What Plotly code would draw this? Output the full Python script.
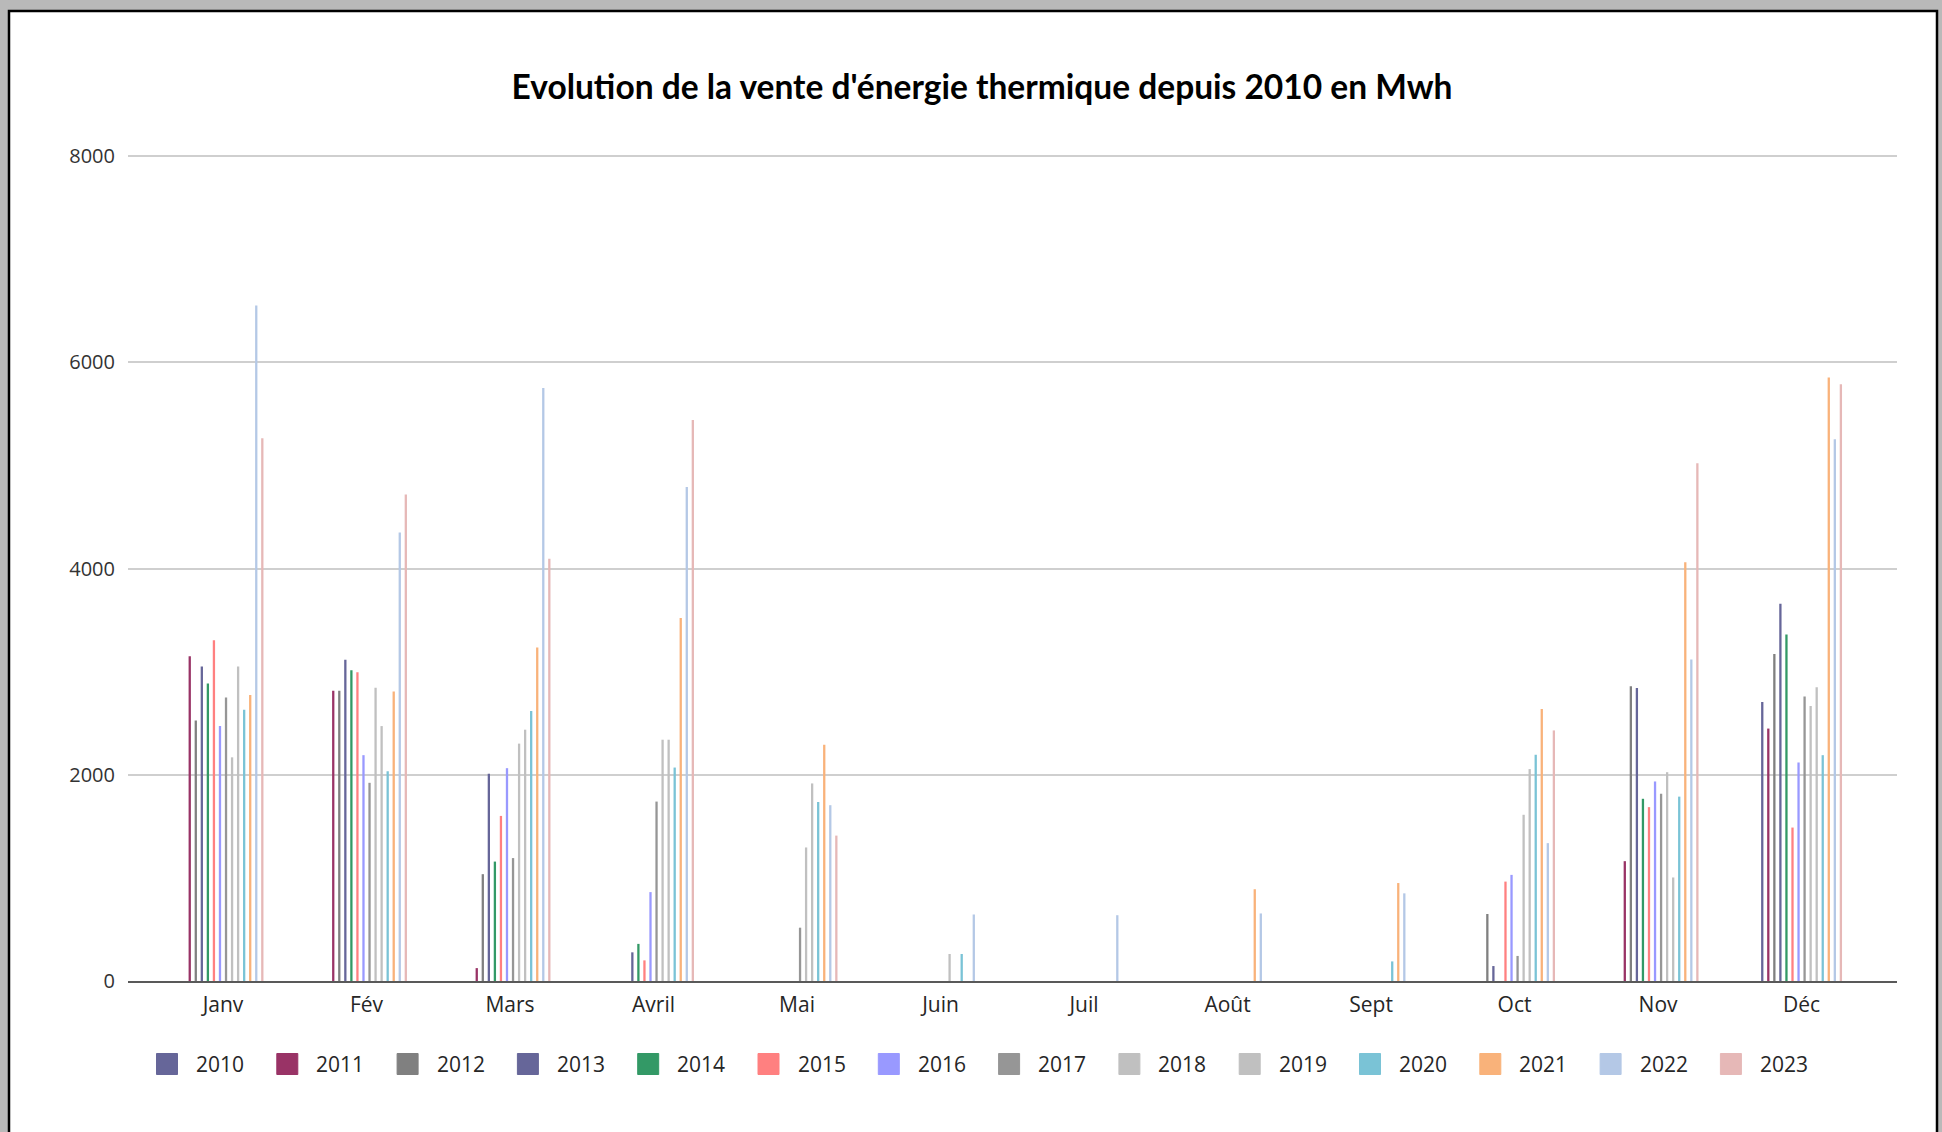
import plotly.graph_objects as go

months = ["Janv", "Fév", "Mars", "Avril", "Mai", "Juin", "Juil", "Août", "Sept", "Oct", "Nov", "Déc"]
years = ["2010", "2011", "2012", "2013", "2014", "2015", "2016",
         "2017", "2018", "2019", "2020", "2021", "2022", "2023"]

v2010 = [0, 0, 0, 0, 0, 0, 0, 0, 0, 0, 0, 2705]
v2011 = [3150, 2815, 125, 0, 0, 0, 0, 0, 0, 0, 1162, 2448]
v2012 = [2527, 2815, 1036, 0, 0, 0, 0, 0, 0, 650, 2858, 3170]
v2013 = [3050, 3115, 2010, 278, 0, 0, 0, 0, 0, 145, 2841, 3658]
v2014 = [2884, 3013, 1158, 360, 0, 0, 0, 0, 0, 0, 1767, 3361]
v2015 = [3305, 2995, 1601, 200, 0, 0, 0, 0, 0, 964, 1686, 1488]
v2016 = [2473, 2190, 2064, 862, 0, 0, 0, 0, 0, 1029, 1935, 2119]
v2017 = [2750, 1922, 1192, 1740, 517, 0, 0, 0, 0, 243, 1816, 2758]
v2018 = [2169, 2843, 2302, 2340, 1295, 262, 0, 0, 0, 1612, 2025, 2667]
v2019 = [3050, 2472, 2437, 2340, 1916, 0, 0, 0, 0, 2055, 1004, 2849]
v2020 = [2630, 2034, 2619, 2070, 1736, 262, 0, 0, 190, 2194, 1788, 2190]
v2021 = [2773, 2807, 3234, 3520, 2291, 0, 0, 890, 950, 2638, 4061, 5853]
v2022 = [6550, 4350, 5750, 4790, 1705, 645, 638, 655, 850, 1337, 3117, 5254]
v2023 = [5264, 4718, 4095, 5440, 1410, 0, 0, 0, 0, 2430, 5020, 5786]

series = [v2010, v2011, v2012, v2013, v2014, v2015, v2016,
          v2017, v2018, v2019, v2020, v2021, v2022, v2023]

colors = ["#666699", "#993366", "#808080", "#666699", "#339966", "#ff8080", "#9999ff",
          "#969696", "#c0c0c0", "#c0c0c0", "#7ac3d6", "#f9b27a", "#b4c8e6", "#e6b8b7"]

title_text = "Evolution de la vente d'énergie thermique depuis 2010 en Mwh"

W, H = 1942, 1132
YMAX = 8020
L, R, B = 128, 1897, 981
T = round(B - (B - 156) * YMAX / 8000)


def px(x):
    return (x - L) / (R - L)


def py(y):
    return (B - y) / (B - T)


fig = go.Figure()
for yr, vals, col in zip(years, series, colors):
    fig.add_trace(go.Bar(x=months, y=vals, name=yr, showlegend=False,
                         marker=dict(color=col, line=dict(width=0))))

shapes = [
    # document frame
    dict(type="rect", xref="paper", yref="paper", layer="below",
         x0=px(9), x1=px(1937), y0=py(1150), y1=py(11),
         fillcolor="white", line=dict(color="black", width=2.5)),
]
annotations = []

# manual legend
leg_y = 1064
x_start = 167
step = 120.3
half = 10.5
for i, (yr, col) in enumerate(zip(years, colors)):
    cx = x_start + i * step
    shapes.append(dict(type="rect", xref="paper", yref="paper",
                       x0=px(cx - half), x1=px(cx + half),
                       y0=py(leg_y + half), y1=py(leg_y - half),
                       fillcolor=col, line=dict(color=col, width=1)))
    annotations.append(dict(xref="paper", yref="paper", x=px(cx + 27), y=py(leg_y),
                            xanchor="left", yanchor="middle", showarrow=False,
                            text=yr, font=dict(family="Open Sans", size=21, color="#262626")))

fig.update_layout(
    width=W, height=H,
    margin=dict(l=L, r=W - R, t=T, b=H - B, autoexpand=False),
    paper_bgcolor="#b9b9b9",
    plot_bgcolor="white",
    barmode="group",
    bargap=0.41,
    bargroupgap=0.62,
    title=dict(text="<b>" + title_text + "</b>", xref="container", yref="container",
               x=982 / W, y=1 - 87 / H, xanchor="center", yanchor="middle",
               font=dict(family="Lato", size=33.5, color="black")),
    shapes=shapes,
    annotations=annotations,
    showlegend=False,
)

fig.update_xaxes(range=[-0.662, 11.665], showline=True, linecolor="#595959", linewidth=2,
                 ticks="", showgrid=False, tickfont=dict(family="Open Sans", size=21, color="#262626"),
                 ticklabelstandoff=4)
fig.update_yaxes(range=[0, YMAX], tickvals=[0, 2000, 4000, 6000, 8000],
                 showgrid=True, gridcolor="#cfcfcf", gridwidth=1.5,
                 zeroline=False, showline=False, ticks="",
                 tickfont=dict(family="Open Sans", size=20, color="#333333"),
                 ticklabelstandoff=12)

fig.write_html("out.html", config={"displayModeBar": False},
               post_script="document.body.style.margin='0px';")
